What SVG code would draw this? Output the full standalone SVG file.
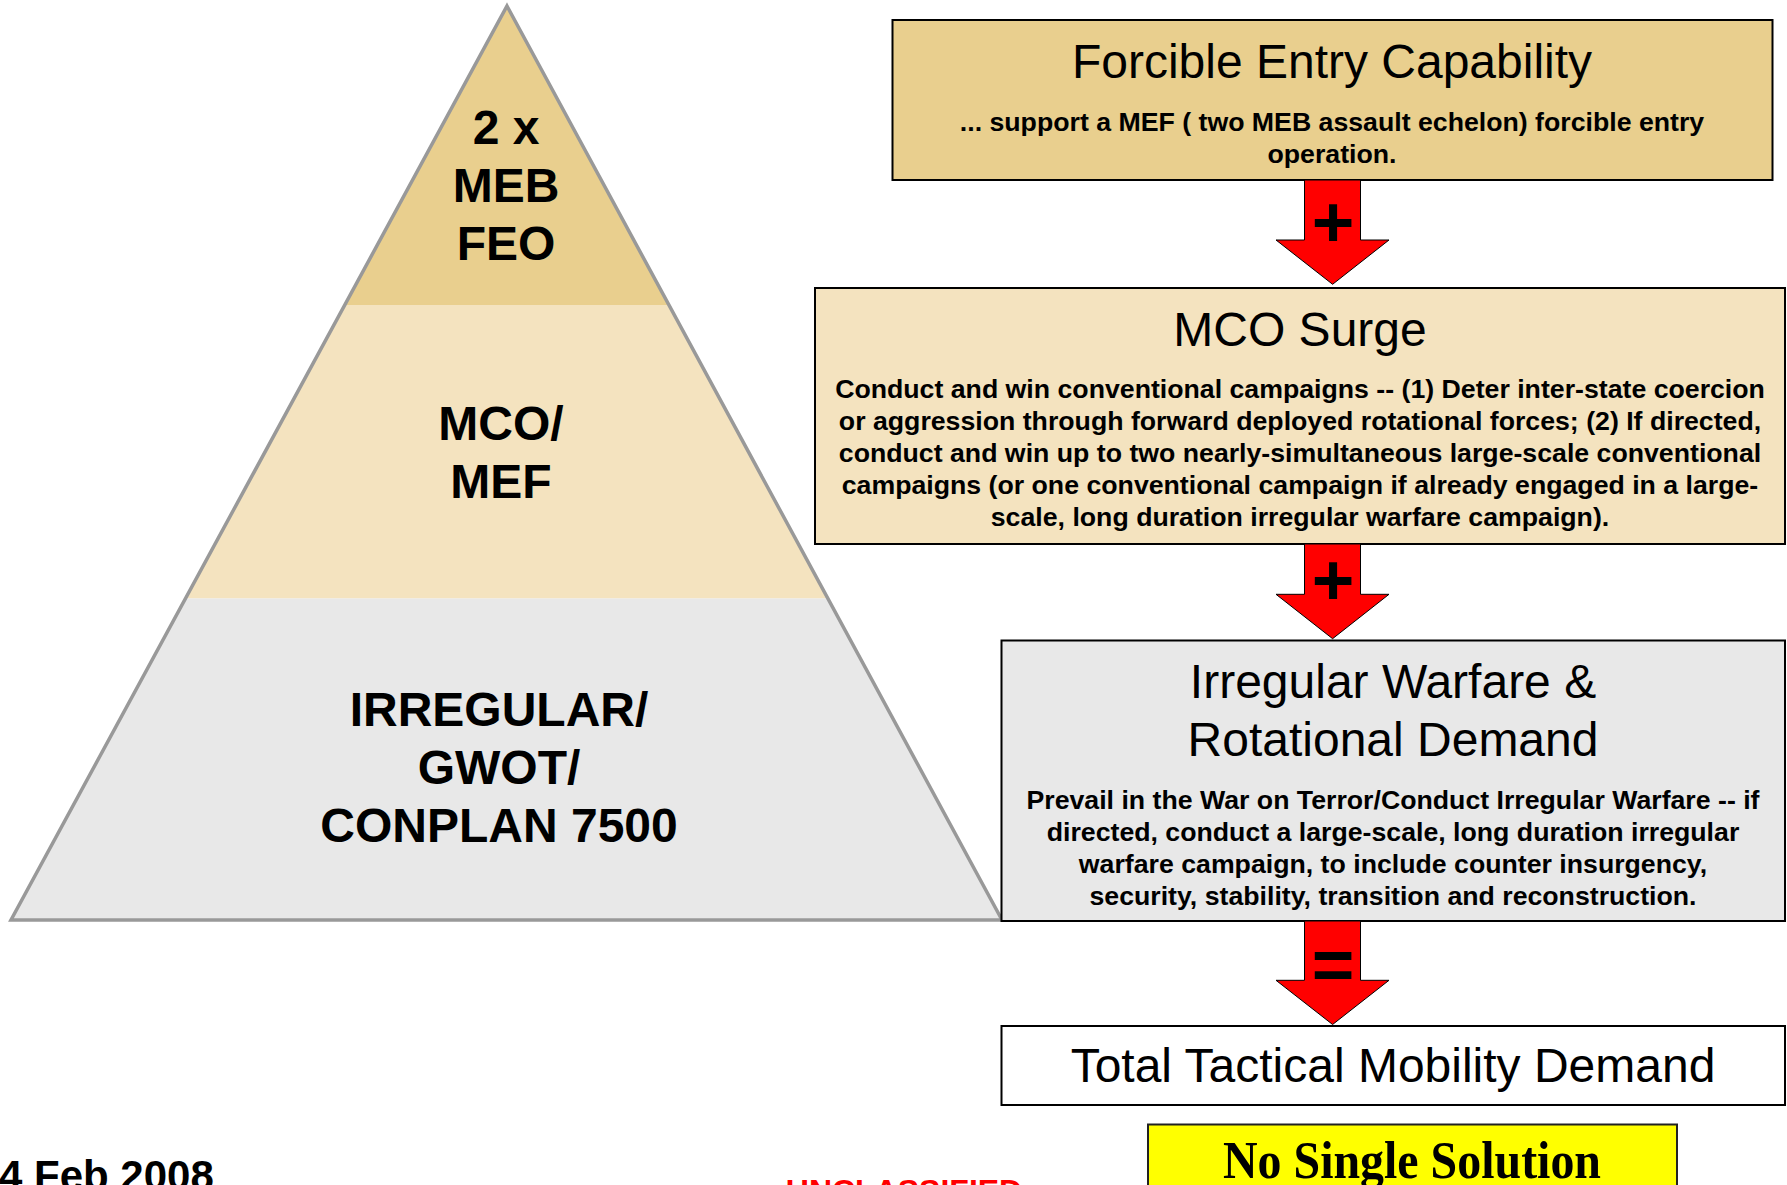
<svg xmlns="http://www.w3.org/2000/svg" width="1787" height="1185" viewBox="0 0 1787 1185">
<style>
.lbl{font-family:"Liberation Sans",Arial,sans-serif;font-weight:bold;font-size:48px;fill:#000;text-anchor:middle}
.ttl{font-family:"Liberation Sans",Arial,sans-serif;font-size:48px;fill:#000;text-anchor:middle}
.body{font-family:"Liberation Sans",Arial,sans-serif;font-weight:bold;font-size:26.7px;fill:#000;text-anchor:middle}
.box{stroke:#000;stroke-width:2}
.arrow{fill:#FF0000;stroke:#000;stroke-width:1}
.op{font-family:"Liberation Sans",Arial,sans-serif;font-weight:bold;font-size:73px;fill:#000;text-anchor:middle}
</style>
<rect width="1787" height="1185" fill="#fff"/>
<g id="pyramid">
  <polygon points="507,6 669,305 345,305" fill="#E9CF8E"/>
  <polygon points="345,305 669,305 828,598.5 186,598.5" fill="#F4E3BF"/>
  <polygon points="186,598.5 828,598.5 1002,920 11,920" fill="#E8E8E8"/>
  <polygon points="507,6 1002,920 11,920" fill="none" stroke="#999" stroke-width="3.5" stroke-linejoin="miter"/>
</g>
<g id="node-feo">
  <text class="lbl" x="506" y="143.5">2 x</text>
  <text class="lbl" x="506" y="201.5">MEB</text>
  <text class="lbl" x="506" y="260">FEO</text>
</g>
<g id="node-mco">
  <text class="lbl" x="501" y="440">MCO/</text>
  <text class="lbl" x="501" y="497.5">MEF</text>
</g>
<g id="node-irregular">
  <text class="lbl" x="499" y="726" font-size="49.5">IRREGULAR/</text>
  <text class="lbl" x="499" y="784" font-size="49.5">GWOT/</text>
  <text class="lbl" x="499" y="841.5" font-size="49.5">CONPLAN 7500</text>
</g>
<g id="box-forcible">
  <rect class="box" x="892.5" y="20" width="880" height="160" fill="#E9CF8E"/>
  <text class="ttl" x="1332" y="78">Forcible Entry Capability</text>
  <text class="body" x="1332" y="131">... support a MEF ( two MEB assault echelon) forcible entry</text>
  <text class="body" x="1332" y="162.5">operation.</text>
</g>
<g id="box-mco">
  <rect class="box" x="815" y="288" width="970" height="256" fill="#F4E3BF"/>
  <text class="ttl" x="1300" y="346">MCO Surge</text>
  <text class="body" x="1300" y="398">Conduct and win conventional campaigns -- (1) Deter inter-state coercion</text>
  <text class="body" x="1300" y="430">or aggression through forward deployed rotational forces; (2) If directed,</text>
  <text class="body" x="1300" y="462">conduct and win up to two nearly-simultaneous large-scale conventional</text>
  <text class="body" x="1300" y="494">campaigns (or one conventional campaign if already engaged in a large-</text>
  <text class="body" x="1300" y="526">scale, long duration irregular warfare campaign).</text>
</g>
<g id="box-irregular">
  <rect class="box" x="1001.5" y="640.5" width="783.5" height="280.5" fill="#E8E8E8"/>
  <text class="ttl" x="1393" y="698" font-size="48.3">Irregular Warfare &amp;</text>
  <text class="ttl" x="1393" y="756" font-size="48.3">Rotational Demand</text>
  <text class="body" x="1393" y="809">Prevail in the War on Terror/Conduct Irregular Warfare -- if</text>
  <text class="body" x="1393" y="841">directed, conduct a large-scale, long duration irregular</text>
  <text class="body" x="1393" y="873">warfare campaign, to include counter insurgency,</text>
  <text class="body" x="1393" y="905">security, stability, transition and reconstruction.</text>
</g>
<g id="box-total">
  <rect class="box" x="1001.5" y="1026" width="783.5" height="79" fill="#fff"/>
  <text class="ttl" x="1393" y="1082" font-size="48.9">Total Tactical Mobility Demand</text>
</g>
<g id="box-nosingle">
  <rect x="1148" y="1124.5" width="529" height="90" fill="#FFFF00" stroke="#222" stroke-width="2"/>
  <text x="1412" y="1178" font-family="'Liberation Serif','Times New Roman',serif" font-weight="bold" font-size="53" text-anchor="middle" textLength="378" lengthAdjust="spacingAndGlyphs">No Single Solution</text>
</g>
<g id="connectors">
  <path class="arrow" d="M1304.5,180 L1360.5,180 L1360.5,240 L1389,240 L1332.6,284.3 L1276,240 L1304.5,240 Z"/>
  <text class="op" x="1333" y="247">+</text>
  <path class="arrow" d="M1304.5,544 L1360.5,544 L1360.5,594.3 L1389,594.3 L1332.6,638.7 L1276,594.3 L1304.5,594.3 Z"/>
  <text class="op" x="1333" y="605">+</text>
  <path class="arrow" d="M1304.5,921 L1360.5,921 L1360.5,980.3 L1389,980.3 L1332.6,1024.5 L1276,980.3 L1304.5,980.3 Z"/>
  <text class="op" x="1333" y="989" font-size="66">=</text>
</g>
<g id="footer">
  <text x="-1" y="1190" font-family="'Liberation Sans',Arial,sans-serif" font-weight="bold" font-size="42" fill="#000">4 Feb 2008</text>
  <text x="904" y="1202" font-family="'Liberation Sans',Arial,sans-serif" font-weight="bold" font-size="32" fill="#FF0000" text-anchor="middle">UNCLASSIFIED</text>
</g>
</svg>
